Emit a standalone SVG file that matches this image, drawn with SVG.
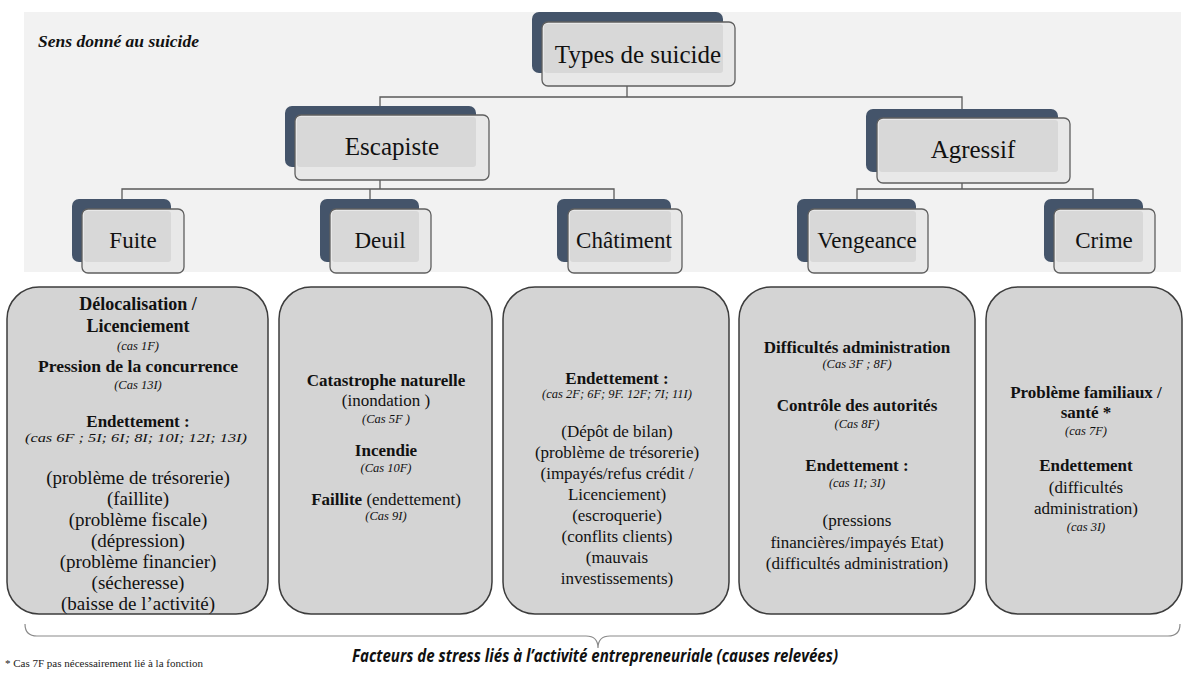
<svg xmlns="http://www.w3.org/2000/svg" width="1192" height="677" viewBox="0 0 1192 677">
<style>
.dk{fill:#44546a}
.fr{fill:#e8e8e8;stroke:#5f5f5f;stroke-width:1.3}
.in{fill:#d8d8d8}
.sf{font-family:"Liberation Serif","Times New Roman",Times,"DejaVu Serif",serif}
.nt{fill:#111;text-anchor:middle}
.conn{fill:none;stroke:#5a5a5a;stroke-width:1.3}
.box{fill:#d4d4d4;stroke:#3c3c3c;stroke-width:1.5}
.t{fill:#111;text-anchor:middle}
.b{font-weight:bold;font-size:17px}
.b18{font-weight:bold;font-size:18px}
.r{font-size:17px}
.r19{font-size:19px}
.i{font-style:italic;font-size:12.5px}
</style>
<rect width="1192" height="677" fill="#ffffff"/>
<rect x="24" y="12" width="1157" height="260" fill="#f2f2f2"/>
<text class="sf" x="38" y="47" font-weight="bold" font-style="italic" font-size="17.5" fill="#111">Sens donné au suicide</text>

<g id="connectors">
<path class="conn" d="M627,86 V97 M380,107 V97 H962 V109"/>
<path class="conn" d="M380,180 V189 M122,199 V189 H614 V199 M370,189 V199"/>
<path class="conn" d="M962,183 V189 M857,199 V189 H1093 V199"/>
</g>

<g id="n-types">
<rect class="dk" x="532" y="12" width="191" height="61" rx="7"/>
<rect class="fr" x="542" y="22" width="193" height="64" rx="6"/>
<rect class="in" x="544" y="24" width="179" height="49" rx="3"/>
<text class="sf nt" x="638" y="63" font-size="25">Types de suicide</text>
</g>
<g id="n-escapiste">
<rect class="dk" x="285" y="106" width="191" height="61" rx="7"/>
<rect class="fr" x="295" y="115" width="194" height="65" rx="6"/>
<rect class="in" x="297" y="117" width="179" height="50" rx="3"/>
<text class="sf nt" x="392" y="155" font-size="25">Escapiste</text>
</g>
<g id="n-agressif">
<rect class="dk" x="866" y="109" width="192" height="63" rx="7"/>
<rect class="fr" x="877" y="118" width="193" height="65" rx="6"/>
<rect class="in" x="879" y="120" width="179" height="52" rx="3"/>
<text class="sf nt" x="973" y="158" font-size="25">Agressif</text>
</g>
<g id="n-fuite">
<rect class="dk" x="72" y="199" width="99" height="63" rx="7"/>
<rect class="fr" x="82" y="209" width="102" height="64" rx="6"/>
<rect class="in" x="84" y="211" width="87" height="51" rx="3"/>
<text class="sf nt" x="133" y="248" font-size="23">Fuite</text>
</g>
<g id="n-deuil">
<rect class="dk" x="320" y="199" width="99" height="63" rx="7"/>
<rect class="fr" x="330" y="209" width="101" height="64" rx="6"/>
<rect class="in" x="332" y="211" width="87" height="51" rx="3"/>
<text class="sf nt" x="380" y="248" font-size="23">Deuil</text>
</g>
<g id="n-chatiment">
<rect class="dk" x="557" y="199" width="114" height="63" rx="7"/>
<rect class="fr" x="568" y="209" width="114" height="64" rx="6"/>
<rect class="in" x="570" y="211" width="101" height="51" rx="3"/>
<text class="sf nt" x="624" y="248" font-size="23">Châtiment</text>
</g>
<g id="n-vengeance">
<rect class="dk" x="797" y="199" width="119" height="63" rx="7"/>
<rect class="fr" x="808" y="209" width="120" height="64" rx="6"/>
<rect class="in" x="810" y="211" width="106" height="51" rx="3"/>
<text class="sf nt" x="867" y="248" font-size="23">Vengeance</text>
</g>
<g id="n-crime">
<rect class="dk" x="1044" y="199" width="99" height="63" rx="7"/>
<rect class="fr" x="1054" y="209" width="101" height="64" rx="6"/>
<rect class="in" x="1056" y="211" width="87" height="51" rx="3"/>
<text class="sf nt" x="1104" y="248" font-size="23">Crime</text>
</g>

<g id="b-fuite" class="sf">
<rect class="box" x="7" y="287" width="261" height="327" rx="32"/>
<text class="t b18" x="138" y="310">Délocalisation /</text>
<text class="t b18" x="138" y="332">Licenciement</text>
<text class="t i" x="138" y="350">(cas 1F)</text>
<text class="t b" x="138" y="372" style="font-size:17.6px">Pression de la concurrence</text>
<text class="t i" x="138" y="389">(Cas 13I)</text>
<text class="t b" x="138" y="427">Endettement :</text>
<text class="t i" x="136" y="442" style="font-size:13px" textLength="222" lengthAdjust="spacingAndGlyphs">(cas 6F ;  5I; 6I; 8I; 10I; 12I; 13I)</text>
<text class="t r19" x="138" y="484">(problème de trésorerie)</text>
<text class="t r19" x="138" y="505">(faillite)</text>
<text class="t r19" x="138" y="526">(problème fiscale)</text>
<text class="t r19" x="138" y="547">(dépression)</text>
<text class="t r19" x="138" y="568">(problème financier)</text>
<text class="t r19" x="138" y="589">(sécheresse)</text>
<text class="t r19" x="138" y="610">(baisse de l’activité)</text>
</g>
<g id="b-deuil" class="sf">
<rect class="box" x="279" y="287" width="213" height="327" rx="32"/>
<text class="t b" x="386" y="386">Catastrophe naturelle</text>
<text class="t r" x="386" y="406">(inondation )</text>
<text class="t i" x="386" y="423">(Cas 5F )</text>
<text class="t b" x="386" y="456">Incendie</text>
<text class="t i" x="386" y="472">(Cas 10F)</text>
<text class="t r" x="386" y="505"><tspan font-weight="bold">Faillite</tspan> (endettement)</text>
<text class="t i" x="386" y="520">(Cas 9I)</text>
</g>
<g id="b-chatiment" class="sf">
<rect class="box" x="503" y="287" width="226" height="327" rx="32"/>
<text class="t b" x="617" y="384">Endettement :</text>
<text class="t i" x="617" y="398">(cas 2F; 6F; 9F. 12F; 7I; 11I)</text>
<text class="t r" x="617" y="437">(Dépôt de bilan)</text>
<text class="t r" x="617" y="458">(problème de trésorerie)</text>
<text class="t r" x="617" y="479">(impayés/refus crédit /</text>
<text class="t r" x="617" y="500">Licenciement)</text>
<text class="t r" x="617" y="521">(escroquerie)</text>
<text class="t r" x="617" y="542">(conflits clients)</text>
<text class="t r" x="617" y="563">(mauvais</text>
<text class="t r" x="617" y="584">investissements)</text>
</g>
<g id="b-vengeance" class="sf">
<rect class="box" x="739" y="287" width="236" height="327" rx="32"/>
<text class="t b" x="857" y="353">Difficultés administration</text>
<text class="t i" x="857" y="368">(Cas 3F ; 8F)</text>
<text class="t b" x="857" y="411">Contrôle des autorités</text>
<text class="t i" x="857" y="428">(Cas 8F)</text>
<text class="t b" x="857" y="471">Endettement :</text>
<text class="t i" x="857" y="487">(cas 1I; 3I)</text>
<text class="t r" x="857" y="526">(pressions</text>
<text class="t r" x="857" y="548">financières/impayés Etat)</text>
<text class="t r" x="857" y="569">(difficultés administration)</text>
</g>
<g id="b-crime" class="sf">
<rect class="box" x="986" y="287" width="196" height="327" rx="32"/>
<text class="t b" x="1086" y="398">Problème familiaux /</text>
<text class="t b" x="1086" y="418">santé *</text>
<text class="t i" x="1086" y="435">(cas 7F)</text>
<text class="t b" x="1086" y="471">Endettement</text>
<text class="t r" x="1086" y="493">(difficultés</text>
<text class="t r" x="1086" y="514">administration)</text>
<text class="t i" x="1086" y="531">(cas 3I)</text>
</g>

<g id="brace">
<path d="M25,624 Q25,636 37,636 L586,636 Q598,636 598,648 Q598,636 610,636 L1168,636 Q1180,636 1180,624" fill="none" stroke="#8a8a8a" stroke-width="1.2"/>
</g>
<text class="sf" x="5" y="667" font-size="11" fill="#222">* Cas 7F pas nécessairement lié à la fonction</text>
<text x="352" y="662" font-family="Open Sans, Liberation Sans, sans-serif" font-weight="bold" font-style="italic" font-size="17" fill="#111" textLength="486" lengthAdjust="spacingAndGlyphs">Facteurs de stress liés à l’activité entrepreneuriale (causes relevées)</text>
</svg>
